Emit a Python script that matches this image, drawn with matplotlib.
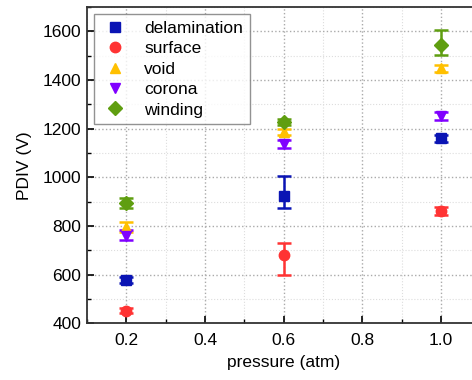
import matplotlib
matplotlib.use("Agg")
import matplotlib.pyplot as plt
from matplotlib.lines import Line2D
from matplotlib.ticker import MultipleLocator

plt.rcParams['font.family'] = ['Liberation Sans', 'DejaVu Sans']

pressure = [0.2, 0.6, 1.0]
labels = ['delamination', 'surface', 'void', 'corona', 'winding']

# mean values and (lower, upper) error
delamination = [580, 925, 1160]
delamination_lo = [12, 50, 15]
delamination_hi = [12, 82, 15]
surface = [452, 682, 862]
surface_lo = [10, 85, 15]
surface_hi = [10, 48, 15]
void = [795, 1185, 1448]
void_lo = [18, 12, 15]
void_hi = [20, 12, 15]
corona = [758, 1138, 1252]
corona_lo = [15, 18, 15]
corona_hi = [25, 15, 15]
winding = [895, 1228, 1545]
winding_lo = [20, 12, 40]
winding_hi = [22, 12, 60]

series = [
    (delamination, delamination_lo, delamination_hi, 's', '#0a14b4'),
    (surface, surface_lo, surface_hi, 'o', '#ff3333'),
    (void, void_lo, void_hi, '^', '#ffc000'),
    (corona, corona_lo, corona_hi, 'v', '#8000ff'),
    (winding, winding_lo, winding_hi, 'D', '#5f9e10'),
]

fig = plt.figure(figsize=(4.72, 3.8), dpi=100)
ax = fig.add_axes([0.1843, 0.149, 0.8332, 0.8324])

handles = []
for (vals, lo, hi, mk, col), lab in zip(series, labels):
    ms = 6.5 if mk == 's' else 7.5
    ax.errorbar(pressure, vals, yerr=[lo, hi], fmt=mk, color=col, ecolor=col,
                markersize=ms, capsize=5, elinewidth=1.8,
                capthick=1.8, zorder=3)
    handles.append(Line2D([], [], linestyle='none', marker=mk, color=col,
                          markersize=ms, label=lab))

ax.set_xlim(0.1, 1.1)
ax.set_ylim(400, 1700)
ax.set_xticks([0.2, 0.4, 0.6, 0.8, 1.0])
ax.set_xticklabels(['0.2', '0.4', '0.6', '0.8', '1.0'])
ax.xaxis.set_minor_locator(MultipleLocator(0.1))
ax.yaxis.set_major_locator(MultipleLocator(200))
ax.yaxis.set_minor_locator(MultipleLocator(100))

ax.grid(which='major', linestyle=':', color='#aaaaaa', linewidth=1.0)
ax.grid(which='minor', linestyle=':', color='#dddddd', linewidth=0.8)
ax.set_axisbelow(True)

ax.tick_params(which='both', direction='in', top=False, right=False, labelsize=12.5)
ax.tick_params(axis='x', which='major', pad=7)
ax.tick_params(axis='y', which='major', pad=4)
ax.tick_params(which='major', length=5, width=1.2)
ax.tick_params(which='minor', length=3, width=1.0)
for s in ax.spines.values():
    s.set_linewidth(1.3)
    s.set_color('#333333')

ax.set_xlabel('pressure (atm)', fontsize=12.5, labelpad=5)
ax.set_ylabel('PDIV (V)', fontsize=12.5, labelpad=8)

leg = ax.legend(handles=handles, loc='upper left', fontsize=12.5, frameon=True,
                fancybox=False, edgecolor='#777777', borderpad=0.4,
                labelspacing=0.3, handletextpad=0.9, borderaxespad=0.4,
                handlelength=1.6)
leg.get_frame().set_linewidth(1.0)

fig.savefig('out.png', dpi=100)
